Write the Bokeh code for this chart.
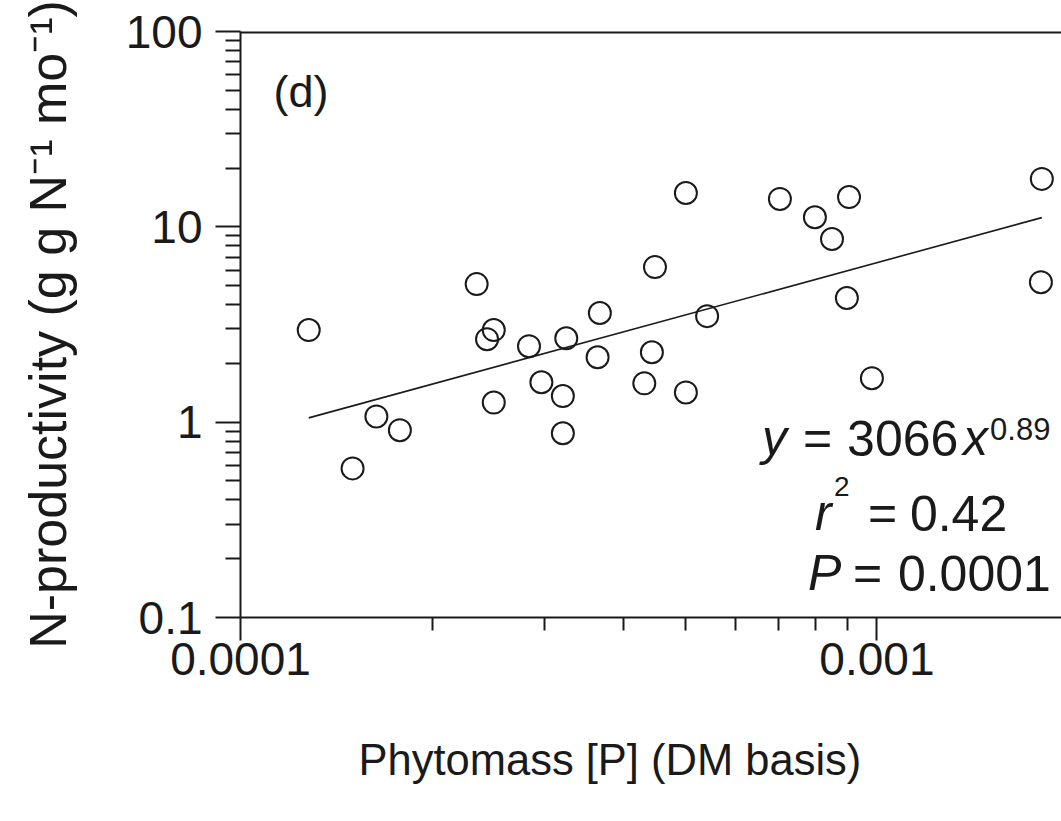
from bokeh.plotting import figure
from bokeh.models import Label, Span, Title, FixedTicker, Range1d
from bokeh.embed import file_html
from bokeh.resources import INLINE
import numpy as np

# Phytomass P concentration (DM basis) and N-productivity (g g N^-1 mo^-1)
phytomass = [1.28e-4, 1.50e-4, 1.635e-4, 1.78e-4, 2.35e-4, 2.44e-4, 2.50e-4,
             2.50e-4, 2.84e-4, 2.97e-4, 3.25e-4, 3.21e-4, 3.21e-4, 3.67e-4,
             3.64e-4, 4.48e-4, 4.43e-4, 4.31e-4, 5.01e-4, 5.41e-4, 5.01e-4,
             7.04e-4, 7.99e-4, 8.50e-4, 9.04e-4, 8.97e-4, 9.82e-4, 1.816e-3,
             1.81e-3]
n_productivity = [2.96, 0.58, 1.07, 0.91, 5.09, 2.66, 2.96, 1.26, 2.45, 1.60,
                  2.69, 1.36, 0.877, 3.62, 2.15, 6.22, 2.28, 1.58, 1.42, 3.49,
                  14.9, 13.9, 11.2, 8.66, 14.2, 4.32, 1.68, 17.6, 5.21]

# power-law fit y = a * x^b
fit_a = 3066
fit_b = 0.89
fit_b_text = "0.89"
r_squared_text = "0.42"
p_value_text = "0.0001"

x_ticks = [1e-4, 1e-3]
x_tick_labels = ["0.0001", "0.001"]
y_ticks = [0.1, 1, 10, 100]
y_tick_labels = ["0.1", "1", "10", "100"]

panel_tag = "(d)"
x_title = "Phytomass [P] (DM basis)"
y_title = "N-productivity (g g N\u207b\u00b9 mo\u207b\u00b9)"

FONT = "Liberation Sans"
INK = "#1a1a1a"

p = figure(width=1061, height=821,
           x_axis_type="log", y_axis_type="log",
           x_range=Range1d(1e-4, 1.95e-3), y_range=Range1d(0.1, 100),
           output_backend="svg", toolbar_location=None,
           min_border_left=240, min_border_right=0,
           min_border_top=31, min_border_bottom=204)
p.outline_line_color = None
p.background_fill_color = "white"
p.border_fill_color = "white"
p.xgrid.visible = False
p.ygrid.visible = False

# top edge of the box
p.add_layout(Span(location=100, dimension="width", line_color=INK, line_width=4))

xminor = [m * 10.0 ** e for e in (-4, -3) for m in range(2, 10)]
yminor = [m * 10.0 ** e for e in (-1, 0, 1) for m in range(2, 10)]

xa = p.xaxis[0]
xa.ticker = FixedTicker(ticks=x_ticks, minor_ticks=xminor)
xa.major_label_overrides = dict(zip(x_ticks, x_tick_labels))
xa.major_tick_out = 23
xa.minor_tick_out = 13
xa.major_label_standoff = 2
# blank spacer below the tick labels pushes the title panel down
xa.axis_label = " "
xa.axis_label_text_font_size = "4px"
xa.axis_label_standoff = 11

ya = p.yaxis[0]
ya.ticker = FixedTicker(ticks=y_ticks, minor_ticks=yminor)
ya.major_label_overrides = dict(zip(y_ticks, y_tick_labels))
ya.major_tick_out = 25
ya.minor_tick_out = 15
ya.major_label_standoff = 13
ya.axis_label = y_title
ya.axis_label_standoff = 46
ya.axis_label_text_font = FONT
ya.axis_label_text_font_size = "52px"
ya.axis_label_text_font_style = "normal"
ya.axis_label_text_color = INK

for ax in (xa, ya):
    ax.axis_line_width = 2
    ax.axis_line_color = INK
    ax.major_tick_line_width = 2
    ax.minor_tick_line_width = 2
    ax.major_tick_line_color = INK
    ax.minor_tick_line_color = INK
    ax.major_tick_in = 0
    ax.minor_tick_in = 0
    ax.major_label_text_font = FONT
    ax.major_label_text_font_size = "46px"
    ax.major_label_text_color = INK

# x-axis title sits under the tick labels, starting left of centre
p.add_layout(Title(text=x_title, align="left", offset=118, standoff=74,
                   text_font=FONT, text_font_size="43.5px",
                   text_font_style="normal", text_color=INK), "below")

# fitted power law across the observed range
fit_x = np.array([min(phytomass), max(phytomass)])
fit_y = fit_a * fit_x ** fit_b
p.line(fit_x, fit_y, line_color=INK, line_width=1.6)

p.scatter(phytomass, n_productivity, marker="circle", size=22,
          fill_color=None, line_color=INK, line_width=2)

def lbl(x, y, text, dx=0, dy=0, size="50px", style="normal"):
    p.add_layout(Label(x=x, y=y, text=text, x_offset=dx, y_offset=dy,
                       text_font=FONT, text_font_size=size,
                       text_font_style=style, text_color=INK,
                       text_baseline="alphabetic", text_align="left"))

lbl(1.127e-4, 49.3, panel_tag, size="45px")

# equation block
lbl(6.60e-4, 0.825, "y", style="italic")
lbl(6.60e-4, 0.825, "=", dx=41)
lbl(6.60e-4, 0.825, str(fit_a), dx=85)
lbl(6.60e-4, 0.825, "x", dx=201, style="italic")
lbl(6.60e-4, 0.825, fit_b_text, dx=228, dy=9, size="31px")

lbl(7.99e-4, 0.341, "r", style="italic")
lbl(7.99e-4, 0.341, "2", dx=19, dy=27, size="28px")
lbl(7.99e-4, 0.341, "=", dx=53)
lbl(7.99e-4, 0.341, r_squared_text, dx=95)

lbl(7.79e-4, 0.168, "P", style="italic")
lbl(7.79e-4, 0.168, "=", dx=45)
lbl(7.79e-4, 0.168, p_value_text, dx=90)

open("out.html", "w").write(file_html(p, INLINE))
